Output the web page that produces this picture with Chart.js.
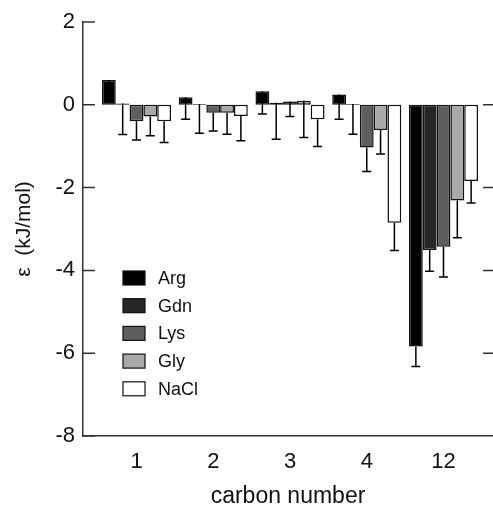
<!DOCTYPE html>
<html lang="en">

<head>
    <meta charset="UTF-8">
    <title>Interaction parameter vs carbon number</title>
    <script src="https://cdn.jsdelivr.net/npm/chart.js"></script>
    <style>
        body {
            margin: 0;
            background-color: #fff;
        }
    </style>
</head>

<body>
    <canvas id="epsChart" width="493" height="520"></canvas>

    <script>
        // data (kJ/mol), error bars drawn downward only
        const categories = ['1', '2', '3', '4', '12'];
        const seriesNames = ['Arg', 'Gdn', 'Lys', 'Gly', 'NaCl'];
        const argValues = [0.60, 0.18, 0.33, 0.25, -5.84];
        const argErrors = [0.35, 0.53, 0.55, 0.60, 0.48];
        const gdnValues = [0.03, 0.02, 0.05, 0.02, -3.51];
        const gdnErrors = [0.75, 0.71, 0.88, 0.73, 0.51];
        const lysValues = [-0.40, -0.19, 0.08, -1.03, -3.43];
        const lysErrors = [0.45, 0.44, 0.36, 0.58, 0.73];
        const glyValues = [-0.28, -0.19, 0.10, -0.61, -2.31];
        const glyErrors = [0.47, 0.52, 0.89, 0.58, 0.90];
        const naclValues = [-0.40, -0.27, -0.35, -2.85, -1.84];
        const naclErrors = [0.51, 0.60, 0.66, 0.67, 0.53];
        const yTickValues = [2, 0, -2, -4, -6, -8];

        const allValues = [argValues, gdnValues, lysValues, glyValues, naclValues];
        const allErrors = [argErrors, gdnErrors, lysErrors, glyErrors, naclErrors];
        const fills = ['#000000', '#262626', '#5e5e5e', '#a9a9a9', '#ffffff'];
        const fontFamily = '"Liberation Sans", Arial, sans-serif';

        const datasets = seriesNames.map((name, s) => ({
            label: name,
            data: allValues[s].map((v, i) => ({ x: i, y: v })),
            errors: allErrors[s],
            backgroundColor: fills[s],
            borderColor: '#111',
            borderWidth: 1.5,
            borderSkipped: false,
            categoryPercentage: 0.9,
            barPercentage: 1.0
        }));

        // down-pointing error whiskers
        const errorBars = {
            id: 'errorBars',
            afterDatasetsDraw(chart) {
                const ctx = chart.ctx;
                const yScale = chart.scales.y;
                ctx.save();
                ctx.strokeStyle = '#000';
                ctx.lineWidth = 1.5;
                chart.data.datasets.forEach((ds, d) => {
                    const meta = chart.getDatasetMeta(d);
                    meta.data.forEach((bar, i) => {
                        const yEnd = yScale.getPixelForValue(ds.data[i].y - ds.errors[i]);
                        ctx.beginPath();
                        ctx.moveTo(bar.x, bar.y);
                        ctx.lineTo(bar.x, yEnd);
                        ctx.moveTo(bar.x - 4.5, yEnd);
                        ctx.lineTo(bar.x + 4.5, yEnd);
                        ctx.stroke();
                    });
                });
                ctx.restore();
            }
        };

        // inward ticks on both sides + legend box inside the plot
        const frameAndLegend = {
            id: 'frameAndLegend',
            afterDraw(chart) {
                const { ctx, chartArea } = chart;
                const yScale = chart.scales.y;
                ctx.save();
                ctx.strokeStyle = '#333';
                ctx.lineWidth = 1.5;
                yScale.ticks.forEach(t => {
                    const y = yScale.getPixelForValue(t.value);
                    ctx.beginPath();
                    ctx.moveTo(chartArea.left, y);
                    ctx.lineTo(chartArea.left + 12, y);
                    if (t.value > yScale.min && t.value < yScale.max) {
                        ctx.moveTo(chartArea.right - 10, y);
                        ctx.lineTo(chartArea.right, y);
                    }
                    ctx.stroke();
                });

                ctx.font = '18px ' + fontFamily;
                ctx.textBaseline = 'middle';
                ctx.textAlign = 'left';
                chart.data.datasets.forEach((ds, i) => {
                    const cy = 278 + i * 27.7;
                    ctx.fillStyle = ds.backgroundColor;
                    ctx.fillRect(123, cy - 7, 22, 14);
                    ctx.strokeStyle = '#111';
                    ctx.lineWidth = 1.2;
                    ctx.strokeRect(123, cy - 7, 22, 14);
                    ctx.fillStyle = '#111';
                    ctx.fillText(ds.label, 158, cy + 1);
                });
                ctx.restore();
            }
        };

        const ctx = document.getElementById('epsChart').getContext('2d');
        const epsChart = new Chart(ctx, {
            type: 'bar',
            data: { datasets: datasets },
            options: {
                responsive: false,
                animation: false,
                layout: { padding: { top: 22, right: 0, bottom: 0, left: 0 } },
                plugins: {
                    legend: { display: false },
                    tooltip: { enabled: false }
                },
                scales: {
                    x: {
                        type: 'linear',
                        offset: false,
                        min: -0.697,
                        max: 4.645,
                        afterBuildTicks: scale => {
                            scale.ticks = categories.map((c, i) => ({ value: i }));
                        },
                        afterFit: scale => { scale.height = 84; },
                        grid: { display: false, drawTicks: false },
                        border: { display: true, color: '#333', width: 1.5 },
                        ticks: {
                            padding: 13,
                            color: '#111',
                            font: { family: fontFamily, size: 22 },
                            callback: v => categories[v]
                        },
                        title: {
                            display: true,
                            text: 'carbon number',
                            color: '#111',
                            font: { family: fontFamily, size: 23 },
                            padding: { top: 0, bottom: 10 }
                        }
                    },
                    y: {
                        min: -8,
                        max: 2,
                        afterBuildTicks: scale => {
                            scale.ticks = yTickValues.map(v => ({ value: v }));
                        },
                        afterFit: scale => { scale.width = 83; },
                        grid: { display: false, drawTicks: false },
                        border: { display: true, color: '#333', width: 1.5 },
                        ticks: {
                            padding: 8,
                            color: '#111',
                            font: { family: fontFamily, size: 22 }
                        },
                        title: {
                            display: true,
                            text: 'ε  (kJ/mol)',
                            color: '#111',
                            font: { family: fontFamily, size: 21 },
                            padding: { top: 12, bottom: 0 }
                        }
                    }
                }
            },
            plugins: [errorBars, frameAndLegend]
        });
    </script>
</body>

</html>
